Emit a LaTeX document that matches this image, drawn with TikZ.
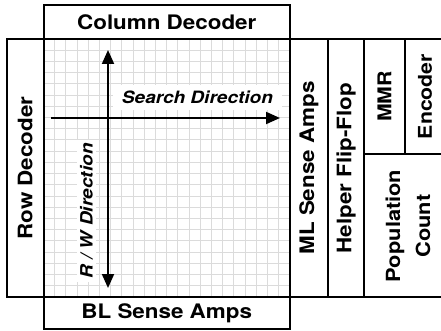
\documentclass[tikz,border=0pt]{standalone}
\usepackage{fontspec}
\setmainfont{TeX Gyre Heros}[FakeStretch=1.12]
\usetikzlibrary{arrows.meta}

\tikzset{
  unit/.style={draw, line width=2pt, inner sep=0pt, outer sep=0pt,
    font=\bfseries\fontsize{20}{24}\selectfont},
  smallunit/.style={unit, font=\bfseries\fontsize{19}{23}\selectfont},
  cellgrid/.style={draw=black!14, line width=1pt},
  arrowtip/.tip={Triangle[length=14pt,width=12pt]},
  dirline/.style={line width=2pt},
  dirlabel/.style={fill=white, inner sep=0pt,
    font=\bfseries\itshape\fontsize{17}{20}\selectfont},
}

\begin{document}
\begin{tikzpicture}[x=1pt, y=-1pt]
\useasboundingbox (0,0) rectangle (441,331);
\clip (0,0) rectangle (441,331);

% memory array with its cell grid
\node[fill=white, inner sep=0pt, outer sep=0pt,
  minimum width=246.5pt, minimum height=258pt] (array) at (166.75,168) {};
\foreach \i in {1,...,21}
  \draw[cellgrid] (43.5+\i*11.2, 39) -- (43.5+\i*11.2, 297);
\foreach \j in {1,...,22}
  \draw[cellgrid] (43.5, 39+\j*11.22) -- (290, 39+\j*11.22);

% direction labels on white patches
\node[dirlabel, minimum width=169pt, minimum height=25pt]
  (searchlabel) at (197.5,97.5) {Search Direction};
\node[dirlabel, rotate=90, minimum width=142pt, minimum height=19pt]
  (rwlabel) at (86.5,211) {R / W Direction};

% direction arrows
\coordinate (rwtop) at (108,50);
\coordinate (rwbot) at (108,288);
\coordinate (searchstart) at (51,118);
\coordinate (searchend) at (280,118);
\draw[dirline, arrowtip-arrowtip] (rwtop) -- (rwbot);
\draw[dirline, -arrowtip] (searchstart) -- (searchend);

\draw[line width=2pt] (array.north west) rectangle (array.south east);

% peripheral blocks
\node[unit, minimum width=246.5pt, minimum height=34pt]
  (coldec) at (166.75,22) {Column Decoder};
\node[unit, minimum width=246.5pt, minimum height=32pt]
  (blsense) at (166.75,313) {BL Sense Amps};
\node[unit, rotate=90, minimum width=258pt, minimum height=36.5pt]
  (rowdec) at (25.25,168) {Row Decoder};
\node[unit, rotate=90, minimum width=258pt, minimum height=38pt]
  (mlsense) at (309,168) {ML Sense Amps};
\node[unit, rotate=90, minimum width=258pt, minimum height=36pt]
  (helper) at (346,168) {Helper Flip-Flop};
\node[smallunit, rotate=90, minimum width=115pt, minimum height=41pt]
  (mmr) at (384.5,96.5) {MMR};
\node[smallunit, rotate=90, minimum width=115pt, minimum height=40pt]
  (encoder) at (425,96.5) {Encoder};
\node[unit, minimum width=81pt, minimum height=143pt]
  (popcount) at (404.5,225.5) {};
\node[rotate=90, align=center, inner sep=0pt,
  font=\bfseries\fontsize{19.5}{30}\selectfont]
  (poplabel) at (408,226) {Population\\Count};
\end{tikzpicture}
\end{document}
